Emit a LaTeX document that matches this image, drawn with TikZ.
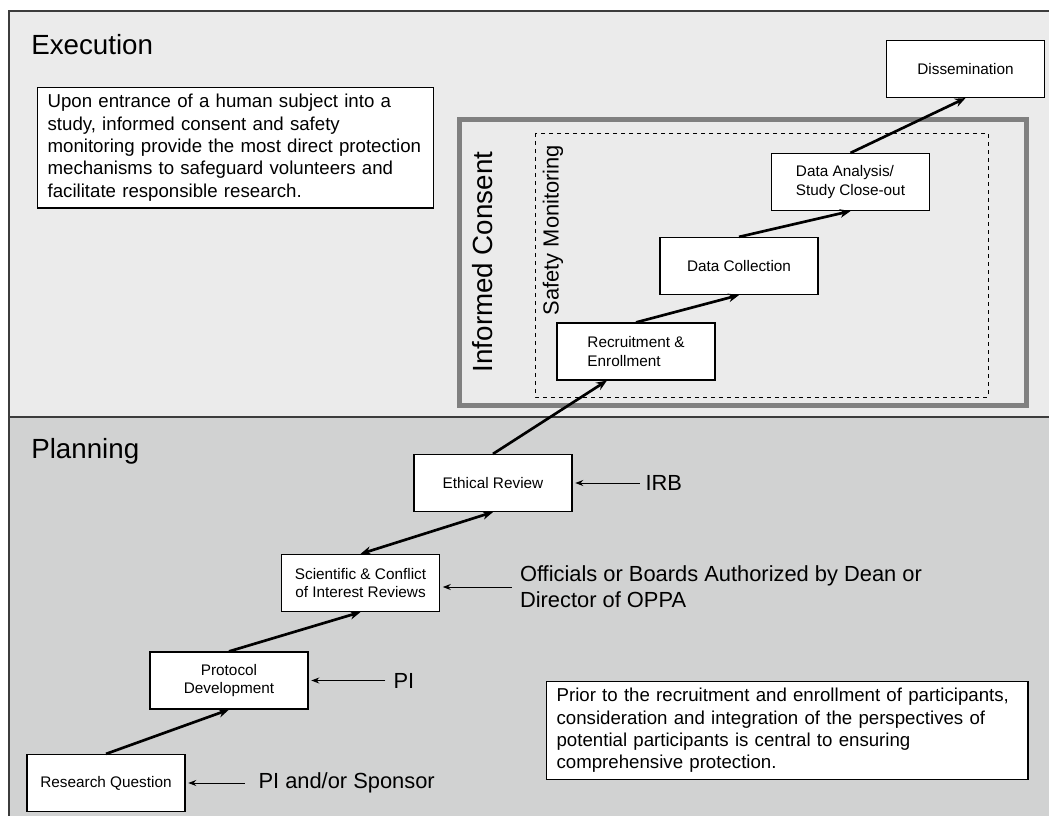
\documentclass[tikz,border=0pt]{standalone}
\usepackage{fontspec}
\setmainfont{Liberation Sans}
\usetikzlibrary{
    arrows.meta,
    positioning
}
\definecolor{execbg}{RGB}{235,235,235}
\definecolor{planbg}{RGB}{209,210,210}
\definecolor{framegray}{RGB}{128,128,128}
\definecolor{edgegray}{RGB}{60,60,60}
\tikzset{
    >={Stealth[length=8pt,width=6.5pt]},
    stage/.style={draw, line width=0.9pt, fill=white, minimum width=118.5pt,
        minimum height=42.75pt, align=center, inner sep=2pt,
        font=\fontsize{11.5}{14}\selectfont},
    flow/.style={->, line width=2pt},
    who/.style={anchor=west, inner sep=2pt, align=left,
        font=\fontsize{16.4}{19.5}\selectfont},
    whoarrow/.style={-{Stealth[length=6pt,width=4.5pt]}, line width=0.75pt, shorten >=2pt},
    note/.style={draw, line width=0.9pt, fill=white, align=left,
        inner xsep=7.5pt, inner ysep=5pt,
        font=\fontsize{14}{16.8}\selectfont},
    phase/.style={anchor=west, inner sep=0pt, font=\fontsize{20.8}{24}\selectfont},
}

\begin{document}
\begin{tikzpicture}[x=0.75pt,y=-0.75pt]
   \useasboundingbox (0,0) rectangle (1049,816);
   % the two phases
   \fill[execbg] (9,11) rectangle (1049,417);
   \fill[planbg] (9,417) rectangle (1049,816);
   \draw[edgegray, line width=1.1pt] (1049,11) -- (9,11) -- (9,816);
   \draw[edgegray, line width=1.3pt] (9,417) -- (1049,417);
   \node[phase] (exec) at (31,45) {Execution};
   \node[phase] (plan) at (31,451) {Planning};

   % protection frames
   \draw[framegray, line width=3.75pt] (459,120) rectangle (1026,405);
   \draw[dashed, line width=0.6pt] (535,133) rectangle (988,397);
   \node[rotate=90, font=\fontsize{20.8}{24}\selectfont] (ic) at (483,262) {Informed Consent};
   \node[rotate=90, font=\fontsize{16.4}{19}\selectfont] (sm) at (553,230) {Safety Monitoring};

   % notes
   \node[note, text width=282pt, anchor=north west] (upon) at (37,87)
      {Upon entrance of a human subject into a\\
       study, informed consent and safety\\
       monitoring provide the most direct protection\\
       mechanisms to safeguard volunteers and\\
       facilitate responsible research.};
   \node[note, text width=346pt, anchor=north west] (prior) at (546,681)
      {Prior to the recruitment and enrollment of participants,\\
       consideration and integration of the perspectives of\\
       potential participants is central to ensuring\\
       comprehensive protection.};

   % stages
   \node[stage] (rq) at (106,783) {Research Question};
   \node[stage] (pd) at (229,680.5) {Protocol\\Development};
   \node[stage] (sc) at (360.5,583) {Scientific \& Conflict\\of Interest Reviews};
   \node[stage] (er) at (493,483) {Ethical Review};
   \node[stage, align=left] (re) at (636,351.5) {Recruitment \&\\Enrollment};
   \node[stage] (dc) at (739,266) {Data Collection};
   \node[stage, align=left] (da) at (850.5,182) {Data Analysis/\\Study Close-out};
   \node[stage] (dis) at (965.5,69) {Dissemination};

   % who does it
   \node[who, right=52.5pt of rq] (spons) {PI and/or Sponsor};
   \node[who, right=61.5pt of pd] (pi) {PI};
   \node[who, right=57.75pt of sc, yshift=-3pt] (offi) {Officials or Boards Authorized by Dean or\\Director of OPPA};
   \node[who, right=52.5pt of er] (irb) {IRB};
   \draw[whoarrow, shorten <=8pt] (spons.west) -- (spons.west -| rq.east);
   \draw[whoarrow, shorten <=4pt] (pi.west) -- (pi.west -| pd.east);
   \draw[whoarrow, shorten <=4pt] (offi.west) -- (offi.west -| sc.east);
   \draw[whoarrow, shorten <=2pt] (irb.west) -- (irb.west -| er.east);

   % main flow
   \draw[flow] (rq.north) -- (pd.south);
   \draw[flow] (pd.north) -- (sc.south);
   \draw[flow, <->] (sc.north) -- (er.south);
   \draw[flow] (er.north) -- (re.225);
   \draw[flow] (re.north) -- (dc.south);
   \draw[flow] (dc.north) -- (da.south);
   \draw[flow] (da.north) -- (dis.south);
\end{tikzpicture}
\end{document}
